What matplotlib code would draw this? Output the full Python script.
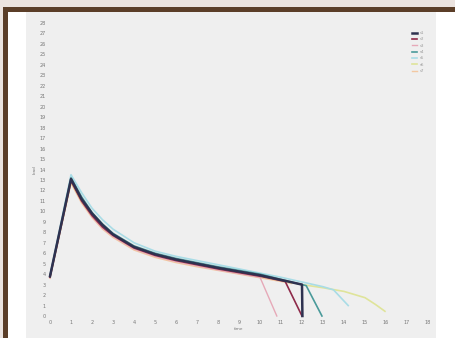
import matplotlib
matplotlib.use("Agg")
import matplotlib.pyplot as plt
from matplotlib.patches import Rectangle

W, H = 455, 338

# specimen curves: x position and measured value
x_s1 = [0, 1, 1.5, 2, 2.5, 3, 4, 5, 6, 7, 8, 9, 10, 11, 12, 12.02]
y_s1 = [3.8, 13.1, 11.2, 9.8, 8.7, 7.8, 6.6, 5.9, 5.4, 5.0, 4.6, 4.25, 3.9, 3.45, 3.0, 0.0]

x_s2 = [0, 1, 1.5, 2, 2.5, 3, 4, 5, 6, 7, 8, 9, 10, 11.2, 12.0]
y_s2 = [3.7, 12.9, 11.0, 9.6, 8.5, 7.7, 6.5, 5.8, 5.3, 4.9, 4.5, 4.15, 3.8, 3.3, 0.0]

x_s3 = [0, 1, 1.5, 2, 2.5, 3, 4, 5, 6, 7, 8, 9, 10, 10.8]
y_s3 = [3.9, 13.0, 11.0, 9.5, 8.4, 7.6, 6.4, 5.7, 5.2, 4.8, 4.4, 4.05, 3.7, 0.0]

x_s4 = [0, 1, 1.5, 2, 2.5, 3, 4, 5, 6, 7, 8, 9, 10, 11, 12.2, 12.95]
y_s4 = [3.8, 13.2, 11.4, 9.9, 8.8, 7.9, 6.7, 6.0, 5.5, 5.1, 4.7, 4.35, 4.0, 3.5, 2.9, 0.0]

x_s5 = [0, 1, 1.5, 2, 2.5, 3, 4, 5, 6, 7, 8, 9, 10, 11, 12, 13, 13.5, 14.2]
y_s5 = [3.9, 13.5, 11.8, 10.3, 9.2, 8.3, 7.0, 6.2, 5.7, 5.3, 4.9, 4.5, 4.1, 3.7, 3.25, 2.8, 2.5, 1.0]

x_s6 = [0, 1, 1.5, 2, 2.5, 3, 4, 5, 6, 7, 8, 9, 10, 11, 12, 13, 14, 15, 15.5, 15.95]
y_s6 = [3.8, 12.8, 11.0, 9.6, 8.6, 7.7, 6.5, 5.8, 5.3, 4.9, 4.5, 4.15, 3.8, 3.4, 3.0, 2.7, 2.35, 1.75, 1.1, 0.45]

x_s7 = [0, 1, 1.5, 2, 2.5, 3, 4, 5, 6, 7, 8, 9, 10, 11, 11.5]
y_s7 = [3.6, 12.7, 10.8, 9.4, 8.3, 7.5, 6.3, 5.6, 5.1, 4.7, 4.35, 4.0, 3.65, 3.3, 3.1]

labels = ["s1", "s2", "s3", "s4", "s5", "s6", "s7"]
colors = ["#2e3250", "#8e2a4a", "#e6a9b8", "#4a9a9a", "#a9dce6", "#dfe49a", "#f3c8a2"]
widths = [1.8, 1.2, 1.0, 1.2, 1.2, 1.2, 1.0]

x_ticks = list(range(0, 19))
y_ticks = list(range(0, 29))

fig = plt.figure(figsize=(W / 100, H / 100), dpi=100)
fig.patch.set_facecolor("white")

def px_rect(x0, y0, x1, y1, color):
    fig.patches.append(Rectangle((x0 / W, 1 - y1 / H), (x1 - x0) / W, (y1 - y0) / H,
                                 transform=fig.transFigure, color=color, zorder=-10, lw=0))

# surrounding frame and panel
px_rect(0, 0, W, 7, "#ebe3df")
px_rect(0, 0, 3, H, "#ebe3df")
px_rect(3, 7, W, 12, "#5b3e28")
px_rect(3, 7, 8, H, "#5b3e28")
px_rect(26, 12, 436, H, "#efefef")

ax = fig.add_axes([50 / W, 1 - 316 / H, (428 - 50) / W, (316 - 23) / H])
ax.set_zorder(5)
ax.set_facecolor("#efefef")
for s in ax.spines.values():
    s.set_visible(False)

series = [(x_s1, y_s1), (x_s2, y_s2), (x_s3, y_s3), (x_s4, y_s4),
          (x_s5, y_s5), (x_s6, y_s6), (x_s7, y_s7)]
order = [6, 5, 4, 2, 3, 1, 0]
handles = {}
for i in order:
    xs, ys = series[i]
    (h,) = ax.plot(xs, ys, color=colors[i], lw=widths[i], label=labels[i],
                   solid_joinstyle="round", clip_on=False)
    handles[i] = h

ax.set_xlim(0, 18)
ax.set_ylim(0, 28)
ax.set_xticks(x_ticks)
ax.set_yticks(y_ticks)
ax.tick_params(length=0, labelsize=3.5, labelcolor="#777777", pad=3)
ax.set_xlabel("time", fontsize=3, color="#777777", labelpad=1)
ax.set_ylabel("load", fontsize=3, color="#777777", labelpad=2)

ax.legend([handles[i] for i in range(7)], labels, loc="upper right",
          bbox_to_anchor=(1.0, 0.985), fontsize=2.8, frameon=False,
          handlelength=1.2, labelspacing=0.6, labelcolor="#999999")

fig.savefig("out.png", dpi=100, facecolor=fig.get_facecolor())
